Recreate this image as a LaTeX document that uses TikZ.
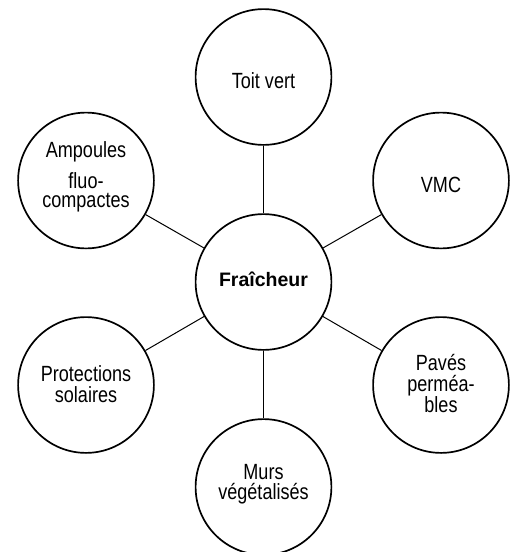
\documentclass[tikz,border=0pt]{standalone}
\usepackage{fontspec}
\setmainfont{Liberation Sans}
\newfontfamily\narrowfont[FakeStretch=0.82]{Liberation Sans}
\begin{document}
\begin{tikzpicture}[x=1pt,y=-1pt,
  bubble/.style={circle,draw=black,line width=1.7pt,minimum size=135.8pt,inner sep=0pt,fill=white},
  link/.style={draw=black,line width=1pt},
  txt/.style={anchor=base,inner sep=0pt,font=\narrowfont\fontsize{22}{22}\selectfont},
  hub/.style={anchor=base,inner sep=0pt,font=\bfseries\fontsize{19.5}{19.5}\selectfont}]
\useasboundingbox (0,0) rectangle (510,552);
\node[bubble] (c) at (263.5,282) {};
\node[bubble] (toit) at (263.5,77) {};
\node[bubble] (vmc) at (441,180.5) {};
\node[bubble] (amp) at (86,180.5) {};
\node[bubble] (prot) at (86,385) {};
\node[bubble] (pave) at (441,385) {};
\node[bubble] (murs) at (263.5,487) {};
\foreach \n in {toit,vmc,amp,prot,pave,murs}
  \draw[link] (c) -- (\n);
\node[hub] (t0) at (263.5,286.7) {Fraîcheur};
\node[txt] (t1) at (263.5,88.3) {Toit vert};
\node[txt] (t2) at (441,192.3) {VMC};
\node[txt] (t3a) at (86,157.5) {Ampoules};
\node[txt] (t3b) at (86,188.5) {fluo-};
\node[txt] (t3c) at (86,207.3) {compactes};
\node[txt] (t4a) at (86,381) {Protections};
\node[txt] (t4b) at (86,402) {solaires};
\node[txt] (t5a) at (441,370.5) {Pavés};
\node[txt] (t5b) at (441,391.5) {perméa-};
\node[txt] (t5c) at (441,412.5) {bles};
\node[txt] (t6a) at (263.5,479.3) {Murs};
\node[txt] (t6b) at (263.5,499.3) {végétalisés};
\end{tikzpicture}
\end{document}
